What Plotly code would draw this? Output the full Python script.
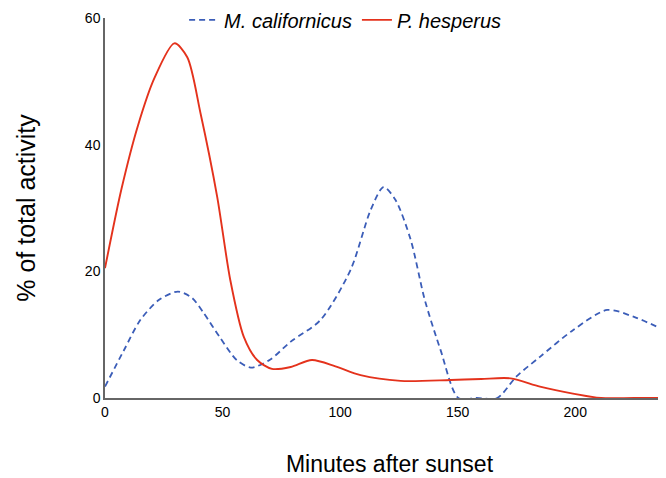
import plotly.graph_objects as go

# M. californicus (blue dashed)
mc_x = [0, 8, 15, 23, 31, 37, 42, 49, 56, 62, 70, 79, 91.6, 104.4, 113, 118.5, 123.5, 130, 136, 142.7, 150.3, 158, 166.8, 175, 185, 199, 213.6, 225, 242]
mc_y = [1.8, 7.5, 12.3, 15.5, 16.8, 15.8, 13.4, 9.5, 6.0, 4.8, 6.0, 8.9, 12.3, 20.2, 29.7, 33.3, 31.3, 25.0, 15.5, 7.6, 0, 0, 0, 3.4, 6.5, 10.7, 13.9, 12.8, 10.0]

# P. hesperus (red solid)
ph_x = [0, 7, 14, 21, 29.5, 35, 40.6, 47.7, 53.3, 59, 64.7, 71, 79, 88, 98, 108.7, 125.7, 147, 160, 172.5, 185, 199, 211, 225, 242]
ph_y = [20.5, 33.0, 43.0, 50.5, 56.0, 53.8, 45.0, 31.8, 18.6, 9.7, 6.0, 4.6, 4.9, 6.0, 5.0, 3.6, 2.7, 2.84, 3.0, 3.1, 1.8, 0.7, 0, 0, 0]

fig = go.Figure()
fig.add_trace(go.Scatter(x=mc_x, y=mc_y, mode="lines", name="<i>M. californicus</i>",
                         line=dict(color="#3B5DB8", width=1.8, dash="6px,4px", shape="spline", smoothing=0.8)))
fig.add_trace(go.Scatter(x=ph_x, y=ph_y, mode="lines", name="<i>P. hesperus</i>",
                         line=dict(color="#E4321C", width=1.9, shape="spline", smoothing=0.8)))

fig.update_layout(
    width=666, height=478,
    margin=dict(l=97, r=0, t=10, b=88, autoexpand=False),
    plot_bgcolor="white", paper_bgcolor="white",
    font=dict(family="Liberation Sans, Arial, sans-serif", color="black"),
    showlegend=True,
    legend=dict(orientation="h", x=0.422, xanchor="center", yref="paper", y=0.995, yanchor="middle",
                font=dict(size=20), bgcolor="rgba(0,0,0,0)"),
    xaxis=dict(range=[0, 242], tickvals=[0, 50, 100, 150, 200], showgrid=False, zeroline=False,
               showline=True, linecolor="#666666", linewidth=1.5, ticks="", tickfont=dict(size=14),
               automargin=False,
               title=dict(text="Minutes after sunset", font=dict(size=23), standoff=37)),
    yaxis=dict(range=[0, 60], tickvals=[0, 20, 40, 60], showgrid=False, zeroline=False,
               showline=True, linecolor="#666666", linewidth=1.5, ticks="", tickfont=dict(size=14),
               automargin=False,
               title=dict(text="% of total activity", font=dict(size=25), standoff=42)),
)

fig.write_html("out.html")
